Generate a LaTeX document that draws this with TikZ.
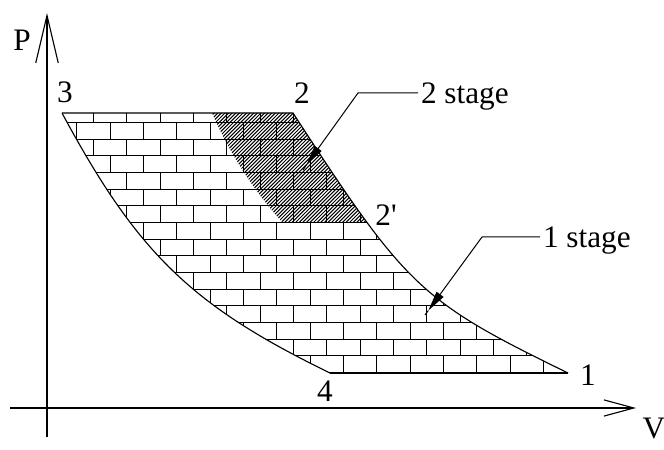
\documentclass[tikz,border=0pt]{standalone}
\usepackage{fontspec}
\setmainfont{Liberation Serif}
\usetikzlibrary{arrows.meta}

\begin{document}
\begin{tikzpicture}[
  x=0.4pt, y=-0.4pt,
  every node/.style = {font=\fontsize{12.5}{15}\selectfont, inner sep=0pt},
  axis/.style     = {line width=0.45pt},
  edge/.style     = {line width=0.45pt},
  base/.style     = {line width=0.75pt},
  brick/.style    = {line width=0.4pt},
  hatch/.style    = {line width=0.4pt},
  leader/.style   = {line width=0.4pt, -{Triangle[length=8pt,width=3.4pt]}},
  tail/.style     = {line width=0.4pt},
  ptlbl/.style    = {},
  stage/.style    = {anchor=west, inner xsep=1pt, text depth=0pt},
]
  \useasboundingbox (0,0) rectangle (664,450);

  % corners of the cycle
  \coordinate (p3) at (62,113);
  \coordinate (p2) at (293,113);
  \coordinate (p1) at (568,373);
  \coordinate (p4) at (330,373);

  \begin{scope}
    \clip (p3) -- (p2) .. controls (406.8,288.1) and (420.6,301.1) .. (p1)
          -- (p4) .. controls (191.2,305.4) and (137.6,253.4) .. (p3) -- cycle;
    % second stage: hatched
    \begin{scope}
      \clip (212,100) -- (212,113) .. controls (230.5,155.1) and (254.5,191.8) .. (283,223)
            -- (420,223) -- (420,100) -- cycle;
      \foreach \i in {0,...,80}
        \draw[hatch] ({220+3.6*\i},100) -- ({80+3.6*\i},240);
    \end{scope}
    % brick work over the whole area
    \foreach \r in {0,...,15} {
      \pgfmathsetmacro\yb{372.67-16.667*\r}
      \pgfmathsetmacro\yt{\yb-16.667}
      \pgfmathsetmacro\off{10+16.667*mod(\r,2)}
      \draw[brick] (50,\yb) -- (580,\yb);
      \foreach \k in {0,...,17}
        \draw[brick] ({\off+33.333*\k},\yb) -- ({\off+33.333*\k},\yt);
    }
  \end{scope}

  \draw[edge] (p3) -- (p2) .. controls (406.8,288.1) and (420.6,301.1) .. (p1);
  \draw[base] (p1) -- (p4);
  \draw[edge] (p4) .. controls (191.2,305.4) and (137.6,253.4) .. (p3);

  % axes
  \coordinate (yb) at (47,437);
  \coordinate (yt) at (47,13);
  \coordinate (xl) at (10,408);
  \coordinate (xr) at (636,408);
  \draw[axis, -{Straight Barb[length=19pt,width=9pt]}] (yb) -- (yt);
  \draw[axis, -{Straight Barb[length=12pt,width=6.5pt]}] (xl) -- (xr);
  \node (P) at (22,40) {P};
  \node (V) at (654,429) {V};

  \node[ptlbl] (n3) at (65,92) {3};
  \node[ptlbl] (n2) at (302,93) {2};
  \node[ptlbl] (n2p) at (386,215) {2\textquotesingle};
  \node[ptlbl] (n1) at (588,375) {1};
  \node[ptlbl] (n4) at (325,391) {4};

  % stage leaders
  \node[stage] (s2) at (418,93) {2 stage};
  \coordinate (k2) at (358,93);
  \coordinate (t2) at (306.5,164.7);
  \coordinate (e2) at (303,170);
  \draw[leader] (s2.west) -- (k2) -- (t2);
  \draw[tail] (t2) -- (e2);

  \node[stage] (s1) at (540,237) {1 stage};
  \coordinate (k1) at (482,237);
  \coordinate (t1) at (428.3,310.5);
  \coordinate (e1) at (425,315);
  \draw[leader] (s1.west) -- (k1) -- (t1);
  \draw[tail] (t1) -- (e1);
\end{tikzpicture}
\end{document}
